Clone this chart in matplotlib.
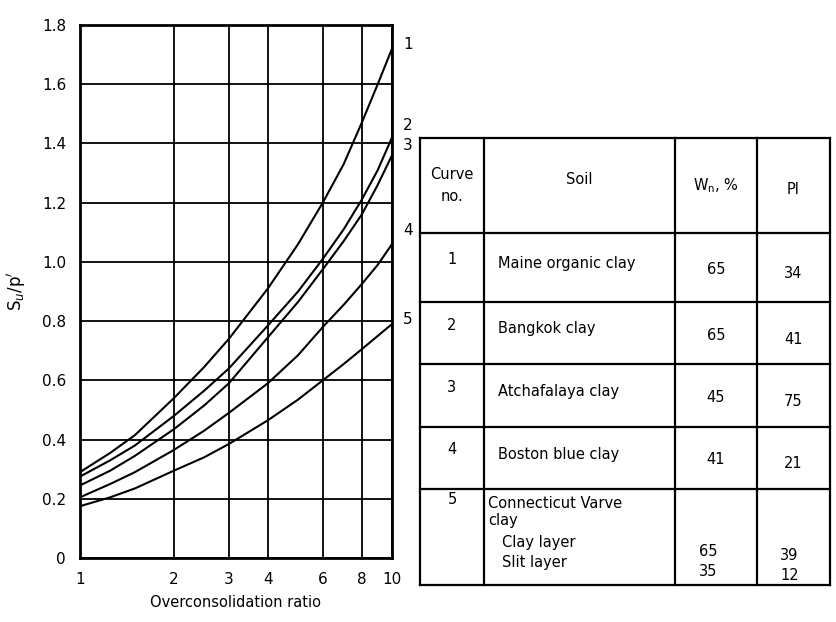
import numpy as np
import matplotlib
matplotlib.use("Agg")
from matplotlib import pyplot as plt

ocr = [1, 1.25, 1.5, 2, 2.5, 3, 4, 5, 6, 7, 8, 9, 10]

# Su/p' for each curve number
curves = {
    "1": [0.29, 0.355, 0.415, 0.54, 0.645, 0.74, 0.91, 1.06, 1.20, 1.33, 1.47, 1.60, 1.72],
    "2": [0.275, 0.33, 0.38, 0.48, 0.565, 0.64, 0.785, 0.90, 1.01, 1.11, 1.21, 1.31, 1.42],
    "3": [0.245, 0.295, 0.345, 0.435, 0.515, 0.59, 0.745, 0.865, 0.975, 1.07, 1.16, 1.26, 1.36],
    "4": [0.205, 0.25, 0.29, 0.365, 0.43, 0.49, 0.59, 0.685, 0.78, 0.855, 0.925, 0.99, 1.06],
    "5": [0.175, 0.205, 0.235, 0.295, 0.34, 0.385, 0.465, 0.535, 0.60, 0.655, 0.705, 0.75, 0.79],
}
label_offsets = {"1": 3, "2": 9, "3": 7, "4": 10, "5": 3}

x_ticks = [1, 2, 3, 4, 6, 8, 10]
y_ticks = [0, 0.2, 0.4, 0.6, 0.8, 1.0, 1.2, 1.4, 1.6, 1.8]
y_tick_labels = ["0", "0.2", "0.4", "0.6", "0.8", "1.0", "1.2", "1.4", "1.6", "1.8"]

# table contents
curve_no = ["1", "2", "3", "4", "5"]
soils = ["Maine organic clay", "Bangkok clay", "Atchafalaya clay", "Boston blue clay"]
wn = ["65", "65", "45", "41"]
pi = ["34", "41", "75", "21"]
varve_wn = ["65", "35"]
varve_pi = ["39", "12"]

plt.rcParams["font.family"] = "DejaVu Sans"

fig = plt.figure(figsize=(8.36, 6.22), dpi=100)
ax = fig.add_axes([80 / 836, 1 - 558 / 622, (392 - 80) / 836, (558 - 25) / 622])

for name, vals in curves.items():
    ax.plot(ocr, vals, color="black", lw=1.5)
    ax.annotate(name, (ocr[-1], vals[-1]), xytext=(8, label_offsets[name]),
                textcoords="offset points", fontsize=11, ha="left", va="center")

ax.set_xscale("log")
ax.set_xlim(1, 10)
ax.set_ylim(0, 1.8)
ax.set_xticks(x_ticks)
ax.set_xticklabels([str(t) for t in x_ticks])
ax.minorticks_off()
ax.set_yticks(y_ticks)
ax.set_yticklabels(y_tick_labels)
ax.tick_params(length=0, labelsize=11, pad=10)
ax.grid(True, color="black", lw=1.3)
for s in ax.spines.values():
    s.set_linewidth(2)
ax.set_xlabel("Overconsolidation ratio", fontsize=10.5, labelpad=6)
ax.set_ylabel("S$_u$/p$'$", fontsize=12, labelpad=10)

# table drawn on its own axes in pixel-like units
tx = fig.add_axes([0, 0, 1, 1])
tx.set_xlim(0, 836)
tx.set_ylim(622, 0)
tx.axis("off")

left, right = 420, 830
cols = [left, 484, 675, 757, right]
rows = [138, 233, 302, 364, 427, 489, 585]
for c in cols:
    tx.plot([c, c], [rows[0], rows[-1]], color="black", lw=1.6)
for r in rows:
    tx.plot([left, right], [r, r], color="black", lw=1.6)

fs = 10.5
tx.text((cols[0] + cols[1]) / 2, (rows[0] + rows[1]) / 2, "Curve\nno.", ha="center",
        va="center", fontsize=fs, linespacing=1.6)
tx.text((cols[1] + cols[2]) / 2, (rows[0] + rows[1]) / 2 - 6, "Soil", ha="center",
        va="center", fontsize=fs)
tx.text((cols[2] + cols[3]) / 2, (rows[0] + rows[1]) / 2, "W$_\\mathregular{n}$, %",
        ha="center", va="center", fontsize=fs)
tx.text((cols[3] + cols[4]) / 2, (rows[0] + rows[1]) / 2 + 4, "PI", ha="center",
        va="center", fontsize=fs)

for i in range(4):
    top, bot = rows[i + 1], rows[i + 2]
    mid = (top + bot) / 2
    tx.text((cols[0] + cols[1]) / 2, mid - 8, curve_no[i], ha="center", va="center", fontsize=fs)
    tx.text(cols[1] + 14, mid - 4, soils[i], ha="left", va="center", fontsize=fs)
    tx.text((cols[2] + cols[3]) / 2, mid + 2, wn[i], ha="center", va="center", fontsize=fs)
    tx.text((cols[3] + cols[4]) / 2, mid + 6, pi[i], ha="center", va="center", fontsize=fs)

top = rows[5]
tx.text((cols[0] + cols[1]) / 2, top + 10, curve_no[4], ha="center", va="center", fontsize=fs)
tx.text(cols[1] + 4, top + 14, "Connecticut Varve", ha="left", va="center", fontsize=fs)
tx.text(cols[1] + 4, top + 32, "clay", ha="left", va="center", fontsize=fs)
tx.text(cols[1] + 18, top + 54, "Clay layer", ha="left", va="center", fontsize=fs)
tx.text(cols[1] + 18, top + 74, "Slit layer", ha="left", va="center", fontsize=fs)
for j in range(2):
    tx.text((cols[2] + cols[3]) / 2 - 8, top + 62 + 20 * j, varve_wn[j], ha="center",
            va="center", fontsize=fs)
    tx.text((cols[3] + cols[4]) / 2 - 4, top + 66 + 20 * j, varve_pi[j], ha="center",
            va="center", fontsize=fs)

fig.savefig("out.png", dpi=100)
